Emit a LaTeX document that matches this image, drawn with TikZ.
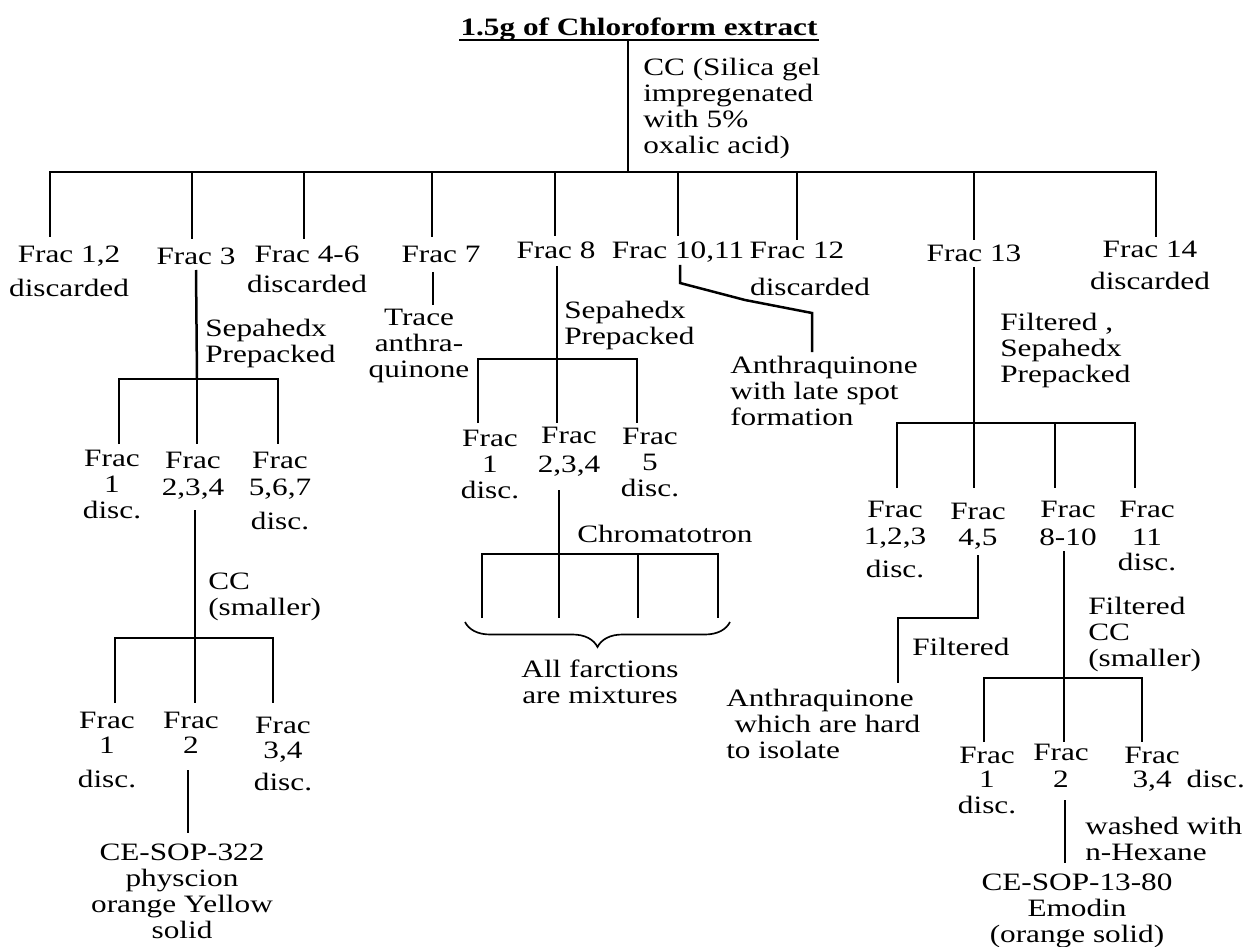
\documentclass[tikz,border=0pt]{standalone}
\usepackage{fontspec}
\setmainfont{Liberation Serif}[FakeStretch=1.25]
\usetikzlibrary{decorations.pathreplacing,calc}
\begin{document}
\begin{tikzpicture}[x=0.6pt,y=-0.6pt,line width=1.5pt,
  txt/.style={inner sep=0pt,align=center,anchor=base,font=\fontsize{15}{15.6}\selectfont},
  txtl/.style={txt,align=left,anchor=base west},
  ttl/.style={txt,font=\fontsize{15}{15.6}\selectfont\bfseries},
  brc/.style={decorate,decoration={brace,amplitude=15pt},line width=1pt}]
\useasboundingbox (0,0) rectangle (1247,947);
% (anchor=base of a multi-line text = baseline of its last line)

% ---------- title and main split ----------
\node[ttl] (title) at (639,36) {1.5g of Chloroform extract};
\draw[line width=1.2pt] ($(title.base west)+(0,4)$) -- ($(title.base east)+(0,4)$);
\coordinate (top) at (628,40);
\coordinate (bus) at (628,172);
\draw (top) -- (bus);
\node[txtl] (cc1) at (642,154) {CC (Silica gel\\impregenated\\with 5\%\\oxalic acid)};

\coordinate (b1) at (50,172);   \coordinate (e1) at (50,237);
\coordinate (b3) at (192,172);  \coordinate (e3) at (192,239);
\coordinate (b46) at (304,172); \coordinate (e46) at (304,239);
\coordinate (b7) at (432,172);  \coordinate (e7) at (432,237);
\coordinate (b8) at (555,172);  \coordinate (e8) at (555,236);
\coordinate (b10) at (678,172); \coordinate (e10) at (678,236);
\coordinate (b12) at (797,172); \coordinate (e12) at (797,240);
\coordinate (b13) at (974,172); \coordinate (e13) at (974,240);
\coordinate (b14) at (1156,172);\coordinate (e14) at (1156,237);
\draw (e1) -- (b1) -- (b14) -- (e14);
\foreach \n in {3,46,7,8,10,12,13} \draw (b\n) -- (e\n);

\node[txt] (f12) at (69,297) {Frac 1,2\\[4.8pt]discarded};
\node[txt] (f3) at (196,265) {Frac 3};
\node[txt] (f46) at (307,293) {Frac 4-6\\[2.4pt]discarded};
\node[txt] (f7) at (441,263) {Frac 7};
\node[txt] (f8) at (556,259) {Frac 8};
\node[txt] (f1011) at (678,259) {Frac 10,11};
\node[txt] (f12b) at (797,259) {Frac 12};
\node[txt] (d12) at (810,295) {discarded};
\node[txt] (f13) at (974,262) {Frac 13};
\node[txt] (f14) at (1150,290) {Frac 14\\[4.2pt]discarded};

% ---------- Frac 3 branch ----------
\coordinate (a3) at (196,270);
\coordinate (h3) at (197,379);
\draw (a3) -- (h3);
\node[txtl] (sep3) at (204,362) {Sepahedx\\Prepacked};
\coordinate (h3l) at (119,379); \coordinate (h3r) at (278,379);
\coordinate (h3ld) at (119,444); \coordinate (h3md) at (197,444); \coordinate (h3rd) at (278,444);
\draw (h3ld) -- (h3l) -- (h3r) -- (h3rd);
\draw (h3) -- (h3md);
\node[txt] (s1) at (112,518) {Frac\\1\\disc.};
\node[txt] (s2) at (193,495) {Frac\\[0.6pt]2,3,4};
\node[txt] (s3) at (280,529) {Frac\\[0.6pt]5,6,7\\[4.8pt]disc.};
\coordinate (a32) at (195,510);
\coordinate (h32) at (195,638);
\draw (a32) -- (h32);
\node[txtl] (cc3) at (207,615) {CC\\(smaller)};
\coordinate (h32l) at (115,638); \coordinate (h32r) at (273,638);
\coordinate (h32ld) at (115,703); \coordinate (h32md) at (195,703); \coordinate (h32rd) at (273,703);
\draw (h32ld) -- (h32l) -- (h32r) -- (h32rd);
\draw (h32) -- (h32md);
\node[txt] (t1) at (107,787) {Frac\\[-0.6pt]1\\[4.8pt]disc.};
\node[txt] (t2) at (191,753) {Frac\\[-0.6pt]2};
\node[txt] (t3) at (283,790) {Frac\\[-0.6pt]3,4\\[3.6pt]disc.};
\coordinate (a33) at (188,770); \coordinate (e33) at (188,833);
\draw (a33) -- (e33);
\node[txt] (p322) at (182,938) {CE-SOP-322\\physcion\\orange Yellow\\solid};

% ---------- Frac 7 ----------
\coordinate (a7) at (433,272); \coordinate (e7b) at (433,305);
\draw (a7) -- (e7b);
\node[txt] (tr7) at (419,377) {Trace\\anthra-\\quinone};

% ---------- Frac 8 branch ----------
\coordinate (a8) at (557,266); \coordinate (h8) at (557,359);
\draw (a8) -- (h8);
\node[txtl] (sep8) at (563,345) {Sepahedx\\Prepacked};
\coordinate (h8l) at (478,359); \coordinate (h8r) at (637,359);
\coordinate (h8ld) at (478,423); \coordinate (h8md) at (557,423); \coordinate (h8rd) at (637,423);
\draw (h8ld) -- (h8l) -- (h8r) -- (h8rd);
\draw (h8) -- (h8md);
\node[txt] (u1) at (490,498) {Frac\\1\\disc.};
\node[txt] (u2) at (569,472) {Frac\\[1.8pt]2,3,4};
\node[txt] (u3) at (650,496) {Frac\\5\\disc.};
\coordinate (a82) at (559,490); \coordinate (h82) at (559,554);
\draw (a82) -- (h82);
\node[txtl] (chr) at (576,542) {Chromatotron};
\coordinate (h82l) at (482,554); \coordinate (h82r) at (718,554);
\coordinate (h82c) at (638,554);
\coordinate (h82ld) at (482,618); \coordinate (h82md) at (559,618);
\coordinate (h82cd) at (638,618); \coordinate (h82rd) at (718,618);
\draw (h82ld) -- (h82l) -- (h82r) -- (h82rd);
\draw (h82) -- (h82md);
\draw (h82c) -- (h82cd);
\coordinate (brR) at (730,622); \coordinate (brL) at (465,622);
\draw[brc] (brR) -- (brL);
\node[txt] (mix) at (600,703) {All farctions\\are mixtures};

% ---------- Frac 10,11 ----------
\coordinate (a10) at (680,265); \coordinate (k1) at (680,283);
\coordinate (k2) at (745,300); \coordinate (k3) at (812,313); \coordinate (e10b) at (812,352);
\draw (a10) -- (k1) -- (k2) -- (k3) -- (e10b);
\node[txtl] (aq1) at (729,425) {Anthraquinone\\with late spot\\formation};

% ---------- Frac 13 branch ----------
\coordinate (a13) at (974,267); \coordinate (h13) at (974,423);
\draw (a13) -- (h13);
\node[txtl] (sep13) at (999,382) {Filtered ,\\Sepahedx\\Prepacked};
\coordinate (h13a) at (897,423); \coordinate (h13c) at (1055,423); \coordinate (h13d) at (1135,423);
\coordinate (h13ad) at (897,488); \coordinate (h13bd) at (974,488);
\coordinate (h13cd) at (1055,488); \coordinate (h13dd) at (1135,488);
\draw (h13ad) -- (h13a) -- (h13d) -- (h13dd);
\draw (h13) -- (h13bd);
\draw (h13c) -- (h13cd);
\node[txt] (v1) at (895,577) {Frac\\[0.6pt]1,2,3\\[4.2pt]disc.};
\node[txt] (v2) at (978,545) {Frac\\4,5};
\node[txt] (v3) at (1068,545) {Frac\\[1.2pt]8-10};
\node[txt] (v4) at (1147,570) {Frac\\[1.2pt]11\\[-0.6pt]disc.};
% Frac 4,5
\coordinate (a45) at (978,555); \coordinate (k45a) at (978,618);
\coordinate (k45b) at (898,618); \coordinate (e45) at (898,683);
\draw (a45) -- (k45a) -- (k45b) -- (e45);
\node[txtl] (filt45) at (911,655) {Filtered};
\node[txtl] (aq2) at (725,758) {Anthraquinone\\\hspace{5pt}which are hard\\to isolate};
% Frac 8-10
\coordinate (a810) at (1064,551); \coordinate (h810) at (1064,678);
\draw (a810) -- (h810);
\node[txtl] (filt810) at (1087,666) {Filtered\\CC\\(smaller)};
\coordinate (h810l) at (984,678); \coordinate (h810r) at (1142,678);
\coordinate (h810ld) at (984,742); \coordinate (h810md) at (1064,742); \coordinate (h810rd) at (1142,742);
\draw (h810ld) -- (h810l) -- (h810r) -- (h810rd);
\draw (h810) -- (h810md);
\node[txt] (w1) at (987,813) {Frac\\[-1.2pt]1\\disc.};
\node[txt] (w2) at (1061,787) {Frac\\[0.6pt]2};
\node[txtl] (w3) at (1123,787) {Frac\\[-1.2pt]\hspace{5pt}3,4\hspace{9pt}disc.};
\coordinate (a82b) at (1065,800); \coordinate (e82b) at (1065,863);
\draw (a82b) -- (e82b);
\node[txtl] (wash) at (1084,860) {washed with\\n-Hexane};
\node[txt] (emo) at (1077,942) {CE-SOP-13-80\\Emodin\\(orange solid)};
\end{tikzpicture}
\end{document}
